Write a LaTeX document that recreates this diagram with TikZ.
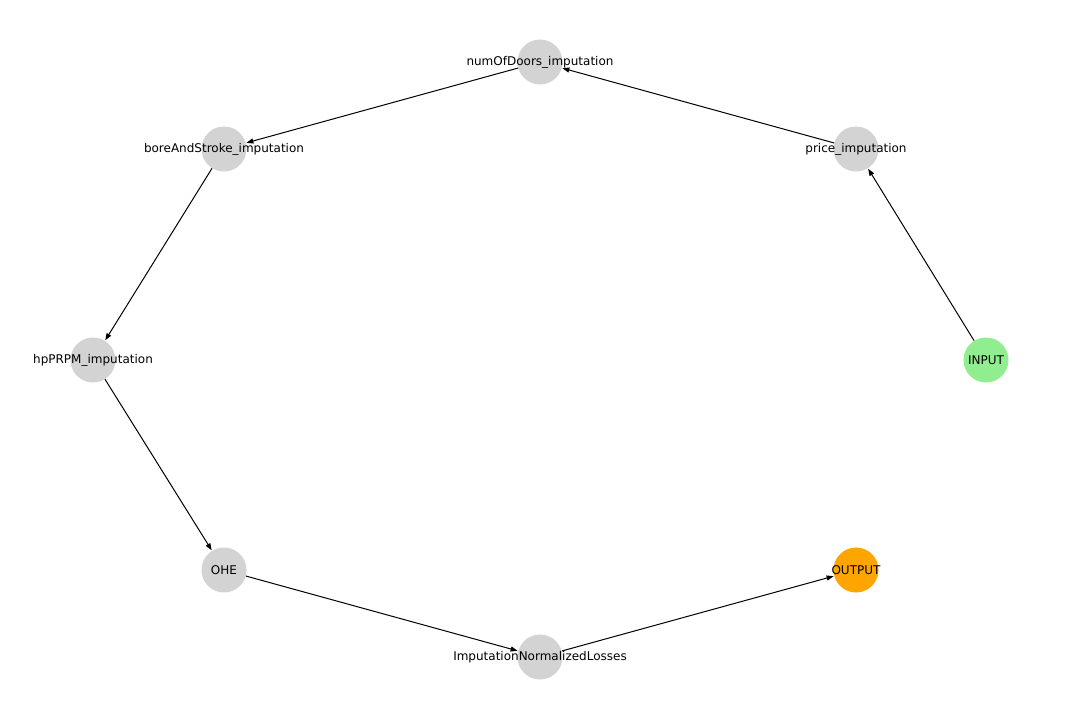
\documentclass[tikz,border=0pt]{standalone}
\usepackage{fontspec}
\setmainfont{DejaVu Sans}
\usetikzlibrary{arrows.meta}
\definecolor{lgray}{HTML}{D3D3D3}
\definecolor{lgreen}{HTML}{90EE90}
\definecolor{orng}{HTML}{FFA500}
\begin{document}
\begin{tikzpicture}[x=1pt,y=-1pt,
  vert/.style={circle,minimum size=45pt,inner sep=0pt,draw=none},
  lbl/.style={inner sep=0pt,font=\fontsize{12pt}{14pt}\selectfont,text=black},
  edge/.style={line width=1pt,-{Triangle[length=7pt,width=5pt]},shorten >=0.5pt}]
\fill[white] (0,0) rectangle (1080,720);
\useasboundingbox (0,0) rectangle (1080,720);
\node[vert,fill=lgray] (nod) at (540,62) {};
\node[vert,fill=lgray] (pri) at (856,149) {};
\node[vert,fill=lgray] (bas) at (224,149) {};
\node[vert,fill=lgray] (hpp) at (93,360) {};
\node[vert,fill=lgreen] (inp) at (986,360) {};
\node[vert,fill=lgray] (ohe) at (224,570) {};
\node[vert,fill=orng] (out) at (856,570) {};
\node[vert,fill=lgray] (inl) at (540,657) {};
\draw[edge] (inp) -- (pri);
\draw[edge] (pri) -- (nod);
\draw[edge] (nod) -- (bas);
\draw[edge] (bas) -- (hpp);
\draw[edge] (hpp) -- (ohe);
\draw[edge] (ohe) -- (inl);
\draw[edge] (inl) -- (out);
\node[lbl] (tnod) at (nod) {numOfDoors\_imputation};
\node[lbl] (tpri) at (pri) {price\_imputation};
\node[lbl] (tbas) at (bas) {boreAndStroke\_imputation};
\node[lbl] (thpp) at (hpp) {hpPRPM\_imputation};
\node[lbl] (tinp) at (inp) {INPUT};
\node[lbl] (tohe) at (ohe) {OHE};
\node[lbl] (tout) at (out) {OUTPUT};
\node[lbl] (tinl) at (inl) {ImputationNormalizedLosses};
\end{tikzpicture}
\end{document}
